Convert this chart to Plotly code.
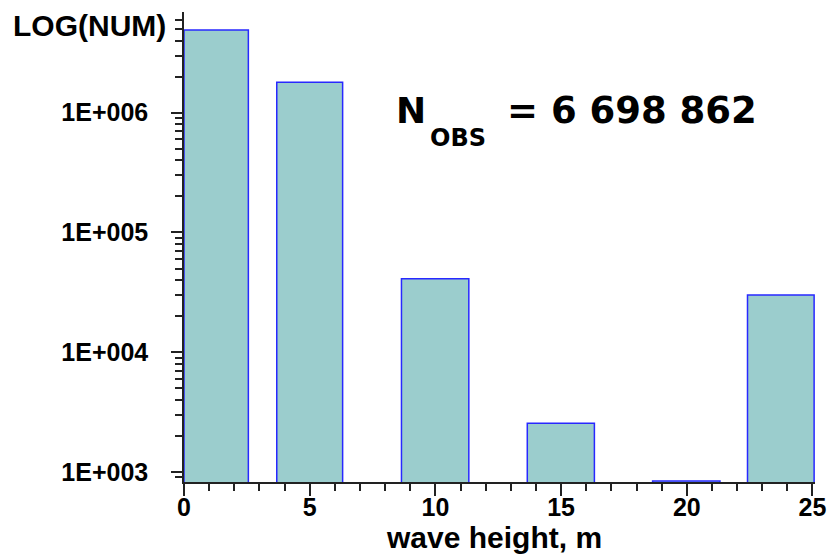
import plotly.graph_objects as go

# ---- data ----
bin_centers = [1.28, 5.0, 9.99, 14.99, 19.98, 23.74]
bin_widths = [2.56, 2.62, 2.68, 2.67, 2.68, 2.65]
counts = [4.9e6, 1.8e6, 4.1e4, 2.55e3, 840, 3.0e4]
y_tickvals = [1e3, 1e4, 1e5, 1e6]
y_ticktext = ["1E+003", "1E+004", "1E+005", "1E+006"]
x_tickvals = [0, 5, 10, 15, 20, 25]
n_obs_text = "= 6 698 862"

FONT = "Liberation Sans"
W, H = 827, 555
ML, MR, MT, MB = 184, 12, 12, 73
PW, PH = W - ML - MR, H - MT - MB


def px(x):
    return (x - ML) / PW


def py(y):
    return (H - MB - y) / PH


fig = go.Figure()
fig.add_trace(go.Bar(
    x=bin_centers, y=counts, width=bin_widths,
    marker=dict(color="#9BCDCD", line=dict(color="rgb(40,40,255)", width=1.5)),
    showlegend=False,
))

fig.update_layout(
    width=W, height=H,
    margin=dict(l=ML, r=MR, t=MT, b=MB, pad=0, autoexpand=False),
    paper_bgcolor="white", plot_bgcolor="white",
    font=dict(family=FONT, color="black"),
    xaxis=dict(
        range=[0, 25.1], showgrid=False, zeroline=False, automargin=False,
        showline=True, linecolor="#222", linewidth=1.5, layer="below traces",
        tickmode="array", tickvals=x_tickvals,
        ticks="outside", ticklen=12, tickwidth=1.5, tickcolor="#222",
        ticklabelstandoff=-10,
        tickfont=dict(family=FONT, size=25, color="black", weight="bold"),
        minor=dict(dtick=1, tick0=0, ticks="outside", ticklen=7, tickwidth=1.5, tickcolor="#222"),
    ),
    yaxis=dict(
        type="log", range=[2.9164, 6.841], showgrid=False, zeroline=False, automargin=False,
        showline=True, linecolor="#222", linewidth=1.5, layer="below traces",
        tickmode="array", tickvals=y_tickvals, ticktext=y_ticktext,
        ticks="outside", ticklen=11, tickwidth=1.5, tickcolor="#222",
        ticklabelstandoff=18,
        tickfont=dict(family=FONT, size=25, color="black", weight="bold"),
        minor=dict(dtick="D1", ticks="outside", ticklen=7, tickwidth=1.5, tickcolor="#222"),
    ),
)

ann = []
ann.append(dict(text="<b>LOG(NUM)</b>", x=px(168), y=py(25.5), xanchor="right", yanchor="middle",
                font=dict(family=FONT, size=30, color="black")))
ann.append(dict(text="<b>wave height, m</b>", x=px(494), y=py(537), xanchor="center", yanchor="middle",
                font=dict(family=FONT, size=30, color="black")))
ann.append(dict(text="<b>N</b>", x=px(394), y=py(110.8), xanchor="left", yanchor="middle",
                font=dict(family="DejaVu Sans", size=36, color="black")))
ann.append(dict(text="<b>OBS</b>", x=px(428), y=py(138), xanchor="left", yanchor="middle",
                font=dict(family="DejaVu Sans", size=24, color="black")))
ann.append(dict(text="<b>" + n_obs_text + "</b>", x=px(505), y=py(110.8), xanchor="left", yanchor="middle",
                font=dict(family="DejaVu Sans", size=37, color="black")))
for a in ann:
    a.update(xref="paper", yref="paper", showarrow=False)
fig.update_layout(annotations=ann)

fig.write_html("out.html")
